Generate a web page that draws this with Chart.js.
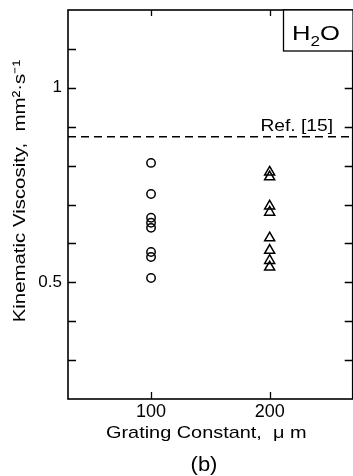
<!DOCTYPE html>
<html>
<head>
<meta charset="utf-8">
<script src="https://cdn.jsdelivr.net/npm/chart.js@4.4.1/dist/chart.umd.min.js"></script>
<style>
body { margin: 0; background: #fff; overflow: hidden; }
#wrap { position: absolute; left: 0; top: 0; width: 360px; height: 476px; }
</style>
</head>
<body>
<div id="wrap"><canvas id="chartVisc" width="360" height="476"></canvas></div>
<script>
// grating constant (um) and measured viscosity (mm2/s)
var circleX = [100, 100, 100, 100, 100, 100, 100, 100];
var circleY = [0.807, 0.727, 0.666, 0.653, 0.640, 0.578, 0.565, 0.511];
var triangleX = [200, 200, 200, 200, 200, 200, 200, 200];
var triangleY = [0.783, 0.771, 0.696, 0.680, 0.614, 0.582, 0.556, 0.539];
var refValue = 0.874;          // Ref. [15]
var xLabelTicks = [100, 200];
var yLabelTicks = [0.5, 1];
var yTickMarks = [0.3, 0.4, 0.5, 0.6, 0.7, 0.8, 0.9, 1.0, 1.1];

var font = 'Arial, "Liberation Sans", sans-serif';

function pts(xs, ys) {
	return xs.map(function (x, i) { return { x: x, y: ys[i] }; });
}

// text stretched a bit sideways, like the scanned figure
function txt(c, s, x, y, size, sx, align) {
	c.save();
	c.translate(x, y);
	c.scale(sx, 1);
	c.font = size + 'px ' + font;
	c.textAlign = align || 'left';
	c.fillText(s, 0, 0);
	var w = c.measureText(s).width * sx;
	c.restore();
	return w;
}

var framePlugin = {
	id: 'frame',
	afterDraw: function (chart) {
		var c = chart.ctx, a = chart.chartArea;
		var sx = chart.scales.x, sy = chart.scales.y;
		c.save();
		c.strokeStyle = '#000';
		c.lineWidth = 1.6;
		c.strokeRect(a.left, a.top, a.right - a.left, a.bottom - a.top);
		c.lineWidth = 1.3;
		c.beginPath();
		yTickMarks.forEach(function (v) {
			var y = Math.round(sy.getPixelForValue(v)) + 0.5;
			c.moveTo(a.left, y); c.lineTo(a.left + 8, y);
			c.moveTo(a.right, y); c.lineTo(a.right - 8, y);
		});
		xLabelTicks.forEach(function (v) {
			var x = Math.round(sx.getPixelForValue(v)) + 0.5;
			c.moveTo(x, a.bottom); c.lineTo(x, a.bottom - 7);
			c.moveTo(x, a.top); c.lineTo(x, a.top + 6);
		});
		c.stroke();

		// H2O box
		c.fillStyle = '#fff';
		c.fillRect(283, a.top, a.right - 283, 41);
		c.strokeRect(283.5, a.top, a.right - 283, 41);
		c.fillStyle = '#000';
		c.textBaseline = 'alphabetic';
		var x0 = 292;
		x0 += txt(c, 'H', x0, 40, 21, 1.22);
		x0 += txt(c, '2', x0, 46, 14, 1.22);
		txt(c, 'O', x0, 40, 21, 1.22);

		// reference label
		txt(c, 'Ref. [15]', 333, 131, 16, 1.2, 'right');

		// x axis titles
		txt(c, 'Grating Constant,  \u03bc m', 106, 438, 17, 1.17);
		txt(c, '(b)', 204, 471, 20, 1.1, 'center');

		// y axis title
		c.translate(25, 191);
		c.rotate(-Math.PI / 2);
		txt(c, 'Kinematic Viscosity,  mm\u00b2\u00b7s\u207b\u00b9', 0, 0, 17, 1.2, 'center');
		c.restore();
	}
};

var ctx = document.getElementById('chartVisc').getContext('2d');
var chart = new Chart(ctx, {
	type: 'scatter',
	data: {
		datasets: [{
			data: pts(circleX, circleY),
			pointStyle: 'circle',
			pointRadius: 4.2,
			borderColor: '#000',
			backgroundColor: 'rgba(0,0,0,0)',
			pointBorderWidth: 1.5
		}, {
			data: pts(triangleX, triangleY),
			pointStyle: 'triangle',
			pointRadius: 5.8,
			borderColor: '#000',
			backgroundColor: 'rgba(0,0,0,0)',
			pointBorderWidth: 1.5
		}, {
			type: 'line',
			data: [{ x: 30, y: refValue }, { x: 270, y: refValue }],
			borderColor: '#000',
			borderWidth: 1.6,
			borderDash: [8, 5],
			pointRadius: 0
		}]
	},
	options: {
		responsive: false,
		animation: false,
		devicePixelRatio: 1,
		layout: { padding: { top: 10, right: 0, left: 0, bottom: 0 } },
		plugins: { legend: { display: false }, tooltip: { enabled: false } },
		scales: {
			x: {
				type: 'linear', min: 30, max: 270,
				grid: { display: false, drawTicks: false }, border: { display: false },
				afterBuildTicks: function (s) { s.ticks = xLabelTicks.map(function (v) { return { value: v }; }); },
				afterFit: function (s) { s.height = 77; s.paddingLeft = 0; s.paddingRight = 0; },
				ticks: { color: '#000', padding: 2, font: { size: 18, family: font }, maxRotation: 0 }
			},
			y: {
				type: 'linear', min: 0.2, max: 1.2,
				grid: { display: false, drawTicks: false }, border: { display: false },
				afterBuildTicks: function (s) { s.ticks = yLabelTicks.map(function (v) { return { value: v }; }); },
				afterFit: function (s) { s.width = 68; s.paddingTop = 0; s.paddingBottom = 0; },
				ticks: { color: '#000', padding: 6, font: { size: 17, family: font },
					callback: function (v) { return String(v); } }
			}
		}
	},
	plugins: [framePlugin]
});
</script>
</body>
</html>
